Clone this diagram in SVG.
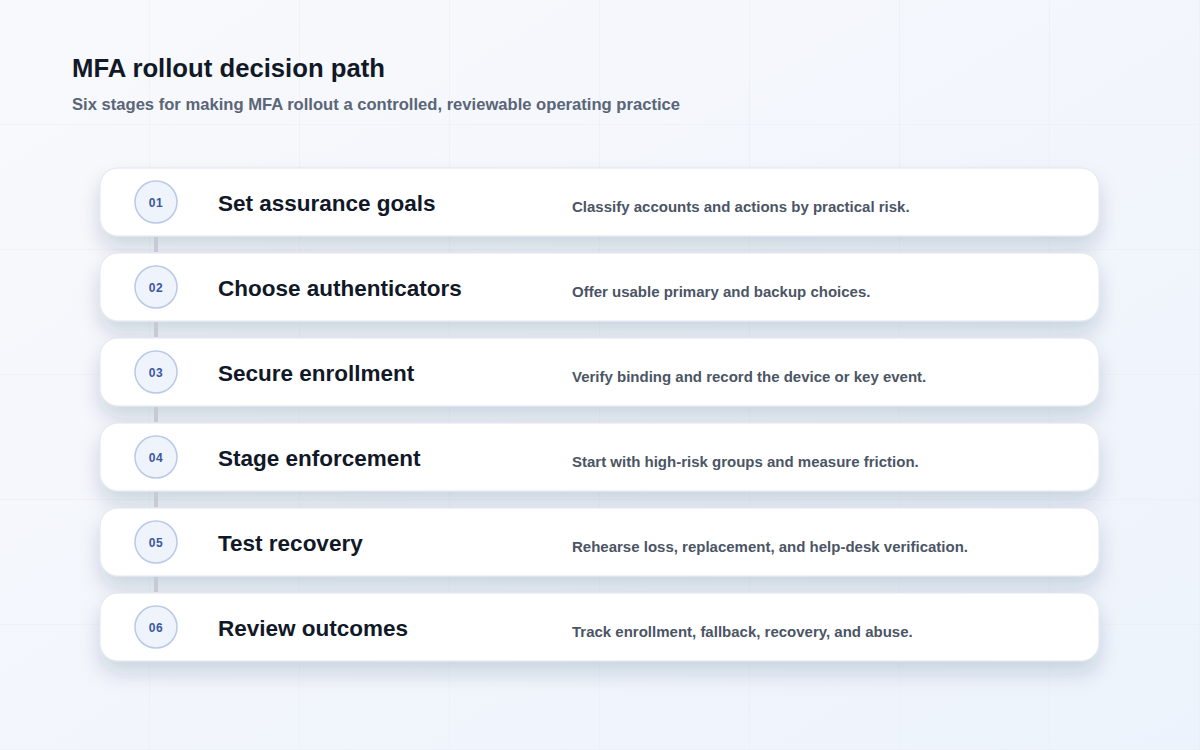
<svg xmlns="http://www.w3.org/2000/svg" width="1200" height="750" viewBox="0 0 1200 750">
  <defs>
    <linearGradient id="bg" x1="0" y1="0" x2="1" y2="1">
      <stop offset="0" stop-color="#f8f9fc"/>
      <stop offset="1" stop-color="#edf3fc"/>
    </linearGradient>
    <pattern id="grid" x="0" y="0" width="150" height="125" patternUnits="userSpaceOnUse">
      <path d="M150 0V125M0 125H150" fill="none" stroke="#e8ecf4" stroke-width="1"/>
    </pattern>
    <filter id="shadow" x="-10%" y="-40%" width="120%" height="220%">
      <feDropShadow dx="0" dy="12" stdDeviation="10" flood-color="#1e2a4a" flood-opacity="0.16"/>
    </filter>
    <style>
      .card{fill:#ffffff;stroke:#dfe4ee;stroke-width:1;filter:url(#shadow)}
      .badge{fill:#eef3fc;stroke:#b9c9e6;stroke-width:1.5}
      .num{font-family:"Liberation Sans",Arial,sans-serif;font-size:12px;font-weight:700;fill:#3a57a0;text-anchor:middle;letter-spacing:0.5px}
      .label{font-family:"Liberation Sans",Arial,sans-serif;font-size:22.5px;font-weight:700;fill:#111827}
      .desc{font-family:"Liberation Sans",Arial,sans-serif;font-size:15px;font-weight:700;fill:#4b5565}
      .title{font-family:"Liberation Sans",Arial,sans-serif;font-size:25.7px;font-weight:700;fill:#111827}
      .sub{font-family:"Liberation Sans",Arial,sans-serif;font-size:16.6px;font-weight:700;fill:#5a6577}
      .link{stroke:#c6cad4;stroke-width:4}
    </style>
  </defs>
  <rect width="1200" height="750" fill="url(#bg)"/>
  <rect width="1200" height="750" fill="url(#grid)"/>

  <text class="title" x="72" y="77">MFA rollout decision path</text>
  <text class="sub" x="72" y="109.5">Six stages for making MFA rollout a controlled, reviewable operating practice</text>

  <g id="node-01">
    <rect class="card" x="100" y="168" width="999" height="68" rx="18"/>
    <circle class="badge" cx="156" cy="202" r="21"/>
    <text class="num" x="156" y="206.5">01</text>
    <text class="label" x="218" y="211">Set assurance goals</text>
    <text class="desc" x="572" y="212">Classify accounts and actions by practical risk.</text>
  </g>
  <g id="node-02">
    <rect class="card" x="100" y="253" width="999" height="68" rx="18"/>
    <circle class="badge" cx="156" cy="287" r="21"/>
    <text class="num" x="156" y="291.5">02</text>
    <text class="label" x="218" y="296">Choose authenticators</text>
    <text class="desc" x="572" y="297">Offer usable primary and backup choices.</text>
  </g>
  <g id="node-03">
    <rect class="card" x="100" y="338" width="999" height="68" rx="18"/>
    <circle class="badge" cx="156" cy="372" r="21"/>
    <text class="num" x="156" y="376.5">03</text>
    <text class="label" x="218" y="381">Secure enrollment</text>
    <text class="desc" x="572" y="382">Verify binding and record the device or key event.</text>
  </g>
  <g id="node-04">
    <rect class="card" x="100" y="423" width="999" height="68" rx="18"/>
    <circle class="badge" cx="156" cy="457" r="21"/>
    <text class="num" x="156" y="461.5">04</text>
    <text class="label" x="218" y="466">Stage enforcement</text>
    <text class="desc" x="572" y="467">Start with high-risk groups and measure friction.</text>
  </g>
  <g id="node-05">
    <rect class="card" x="100" y="508" width="999" height="68" rx="18"/>
    <circle class="badge" cx="156" cy="542" r="21"/>
    <text class="num" x="156" y="546.5">05</text>
    <text class="label" x="218" y="551">Test recovery</text>
    <text class="desc" x="572" y="552">Rehearse loss, replacement, and help-desk verification.</text>
  </g>
  <g id="node-06">
    <rect class="card" x="100" y="593" width="999" height="68" rx="18"/>
    <circle class="badge" cx="156" cy="627" r="21"/>
    <text class="num" x="156" y="631.5">06</text>
    <text class="label" x="218" y="636">Review outcomes</text>
    <text class="desc" x="572" y="637">Track enrollment, fallback, recovery, and abuse.</text>
  </g>

  <g id="connectors">
    <line class="link" x1="156" y1="237" x2="156" y2="252"/>
    <line class="link" x1="156" y1="322" x2="156" y2="337"/>
    <line class="link" x1="156" y1="407" x2="156" y2="422"/>
    <line class="link" x1="156" y1="492" x2="156" y2="507"/>
    <line class="link" x1="156" y1="577" x2="156" y2="592"/>
  </g>
</svg>
